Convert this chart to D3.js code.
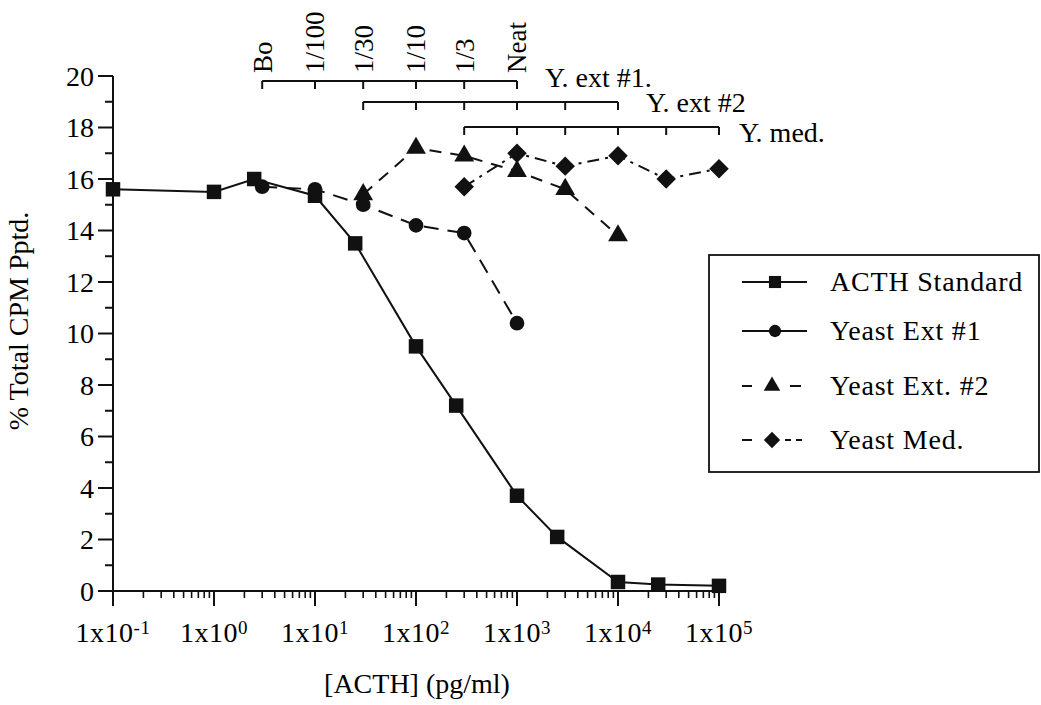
<!DOCTYPE html>
<html>
<head>
<meta charset="utf-8">
<script src="https://cdn.jsdelivr.net/npm/d3@7/dist/d3.min.js"></script>
<style>
  html, body { margin: 0; padding: 0; background: #fff; }
  svg { display: block; }
  text { font-family: "Liberation Serif", "Times New Roman", serif; fill: #000; }
</style>
</head>
<body>
<svg id="chart" width="1041" height="705"></svg>
<script>
// ACTH radioimmunoassay: % total CPM precipitated vs ACTH concentration
const acthX = [0.1, 1, 2.5, 10, 25, 100, 250, 1000, 2500, 10000, 25000, 100000];
const acthY = [15.6, 15.5, 16.0, 15.35, 13.5, 9.5, 7.2, 3.7, 2.1, 0.35, 0.25, 0.2];

const ext1X = [3, 10, 30, 100, 300, 1000];
const ext1Y = [15.7, 15.6, 15.0, 14.2, 13.9, 10.4];

const ext2X = [30, 100, 300, 1000, 3000, 10000];
const ext2Y = [15.4, 17.2, 16.9, 16.3, 15.6, 13.8];

const medX = [300, 1000, 3000, 10000, 30000, 100000];
const medY = [15.7, 17.0, 16.5, 16.9, 16.0, 16.4];

const seriesNames = ["ACTH Standard", "Yeast Ext #1", "Yeast Ext. #2", "Yeast Med."];

// dilution labels along the top (Y. ext #1 dilution series)
const dilutionLabels = ["Bo", "1/100", "1/30", "1/10", "1/3", "Neat"];
const bracketNames = ["Y. ext #1.", "Y. ext #2", "Y. med."];

const xTickValues = [1e-1, 1e0, 1e1, 1e2, 1e3, 1e4, 1e5];
const xTickExponents = ["-1", "0", "1", "2", "3", "4", "5"];
const yTickValues = [0, 2, 4, 6, 8, 10, 12, 14, 16, 18, 20];

const svg = d3.select("#chart");

const x = d3.scaleLog().domain([0.1, 1e5]).range([113, 719]);
const y = d3.scaleLinear().domain([0, 20]).range([591, 76]);

const ink = "#111";

// ---- y axis ----
const yAxis = svg.append("g");
yAxis.append("line")
  .attr("x1", x(0.1)).attr("x2", x(0.1))
  .attr("y1", y(20)).attr("y2", y(0) + 15)
  .attr("stroke", ink).attr("stroke-width", 2);
d3.range(0, 21, 1).forEach(v => {
  const major = v % 2 === 0;
  yAxis.append("line")
    .attr("x1", x(0.1) - (major ? 15 : 8)).attr("x2", x(0.1))
    .attr("y1", y(v)).attr("y2", y(v))
    .attr("stroke", ink).attr("stroke-width", 2);
});
yAxis.selectAll("text.ytick").data(yTickValues).join("text")
  .attr("class", "ytick")
  .attr("x", 94).attr("y", d => y(d)).attr("dy", "0.35em")
  .attr("text-anchor", "end").attr("font-size", 28)
  .text(d => d);

// ---- x axis ----
const xAxis = svg.append("g");
xAxis.append("line")
  .attr("x1", x(0.1)).attr("x2", x(1e5))
  .attr("y1", y(0)).attr("y2", y(0))
  .attr("stroke", ink).attr("stroke-width", 2);
const minorX = [];
for (let e = -1; e < 5; e++) {
  for (let m = 2; m <= 9; m++) minorX.push(m * Math.pow(10, e));
}
xAxis.selectAll("line.minor").data(minorX).join("line")
  .attr("class", "minor")
  .attr("x1", d => x(d)).attr("x2", d => x(d))
  .attr("y1", y(0)).attr("y2", y(0) + 7)
  .attr("stroke", ink).attr("stroke-width", 1.6);
xAxis.selectAll("line.major").data(xTickValues).join("line")
  .attr("class", "major")
  .attr("x1", d => x(d)).attr("x2", d => x(d))
  .attr("y1", y(0)).attr("y2", y(0) + 15)
  .attr("stroke", ink).attr("stroke-width", 2);
const xl = xAxis.selectAll("text.xtick").data(xTickValues).join("text")
  .attr("class", "xtick")
  .attr("x", d => x(d)).attr("y", 642)
  .attr("text-anchor", "middle").attr("font-size", 28)
  .attr("letter-spacing", 0.5);
xl.append("tspan").text("1x10");
xl.append("tspan").attr("dy", -8).attr("font-size", 19)
  .text((d, i) => xTickExponents[i]);

// axis titles
svg.append("text")
  .attr("x", 417).attr("y", 693)
  .attr("text-anchor", "middle").attr("font-size", 28)
  .text("[ACTH] (pg/ml)");
svg.append("text")
  .attr("transform", "translate(28,321) rotate(-90)")
  .attr("text-anchor", "middle").attr("font-size", 28)
  .text("% Total CPM Pptd.");

// ---- dilution brackets along the top ----
const bracketSets = [ext1X, ext2X, medX];
const bracketY = [81, 102, 127];
const bracketLabelDx = [28, 28, 20];
const bracketLabelDy = [6, 10, 15];
bracketSets.forEach((xs, k) => {
  const g = svg.append("g");
  const by = bracketY[k];
  g.append("line")
    .attr("x1", x(xs[0])).attr("x2", x(xs[xs.length - 1]))
    .attr("y1", by).attr("y2", by)
    .attr("stroke", ink).attr("stroke-width", 2);
  g.selectAll("line.t").data(xs).join("line")
    .attr("class", "t")
    .attr("x1", d => x(d)).attr("x2", d => x(d))
    .attr("y1", by).attr("y2", by + 8)
    .attr("stroke", ink).attr("stroke-width", 2);
  g.append("text")
    .attr("x", x(xs[xs.length - 1]) + bracketLabelDx[k])
    .attr("y", by + bracketLabelDy[k])
    .attr("font-size", 28)
    .text(bracketNames[k]);
});
svg.selectAll("text.dil").data(dilutionLabels).join("text")
  .attr("class", "dil")
  .attr("transform", (d, i) => `translate(${x(ext1X[i])},73) rotate(-90)`)
  .attr("dy", "0.35em")
  .attr("font-size", 27)
  .text(d => d);

// ---- series ----
const line = d3.line().x(d => x(d[0])).y(d => y(d[1]));
const zip = (a, b) => a.map((v, i) => [v, b[i]]);

// square-proportioned diamond (a square turned 45 degrees)
const diamondSym = {
  draw(ctx, size) {
    const r = Math.sqrt(size / 2);
    ctx.moveTo(0, -r); ctx.lineTo(r, 0); ctx.lineTo(0, r); ctx.lineTo(-r, 0); ctx.closePath();
  }
};

const series = [
  { xs: acthX, ys: acthY, dash: null, sym: d3.symbolSquare, size: 210 },
  { xs: ext1X, ys: ext1Y, dash: "15,9", sym: d3.symbolCircle, size: 170 },
  { xs: ext2X, ys: ext2Y, dash: "12,9", sym: d3.symbolTriangle, size: 170 },
  { xs: medX, ys: medY, dash: "12,6,3,6", sym: diamondSym, size: 190 }
];

series.forEach(s => {
  svg.append("path")
    .attr("d", line(zip(s.xs, s.ys)))
    .attr("fill", "none").attr("stroke", ink).attr("stroke-width", 2)
    .attr("stroke-dasharray", s.dash);
});
series.forEach(s => {
  svg.selectAll(null).data(zip(s.xs, s.ys)).join("path")
    .attr("transform", d => `translate(${x(d[0])},${y(d[1])})`)
    .attr("d", d3.symbol().type(s.sym).size(s.size))
    .attr("fill", ink);
});

// ---- legend ----
const lg = svg.append("g");
lg.append("rect")
  .attr("x", 709).attr("y", 255).attr("width", 330).attr("height", 217)
  .attr("fill", "#fff").attr("stroke", ink).attr("stroke-width", 1.8);
const rowY = [282, 331, 386, 440];
// line pieces of each legend sample, as [from, to] offsets along the sample
const legendPieces = [
  [[742, 807]],
  [[742, 807]],
  [[742, 752], [790, 801]],
  [[742, 752], [785, 791], [796, 802]]
];
seriesNames.forEach((name, i) => {
  legendPieces[i].forEach(p => {
    lg.append("line")
      .attr("x1", p[0]).attr("x2", p[1])
      .attr("y1", rowY[i]).attr("y2", rowY[i])
      .attr("stroke", ink).attr("stroke-width", 2);
  });
  lg.append("path")
    .attr("transform", `translate(${i >= 2 ? 772 : 775},${rowY[i]})`)
    .attr("d", d3.symbol().type(series[i].sym).size(series[i].size * 0.7))
    .attr("fill", ink);
  lg.append("text")
    .attr("x", 830).attr("y", rowY[i] + 9)
    .attr("font-size", 28).attr("letter-spacing", 0.8)
    .text(name);
});
</script>
</body>
</html>
